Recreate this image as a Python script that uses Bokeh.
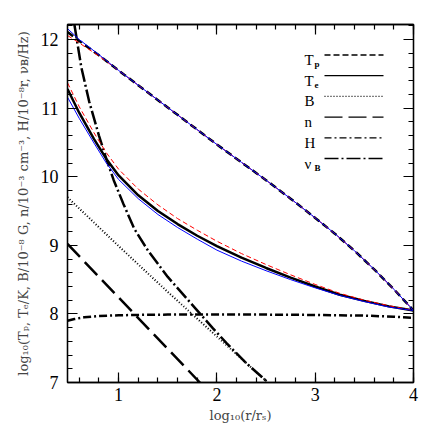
from bokeh.plotting import figure
from bokeh.models import Label, LinearAxis, SingleIntervalTicker, Range1d, CustomJSTickFormatter
from bokeh.embed import file_html
from bokeh.resources import INLINE

# ---------------- data ----------------
x_tp = [0.48, 0.6, 0.8, 1.0, 1.25, 1.5, 1.75, 2.0, 2.25, 2.5, 2.75, 3.0, 3.2, 3.4, 3.6, 3.8, 4.0]
tp_black = [12.11, 11.98, 11.77, 11.55, 11.28, 11.01, 10.74, 10.47, 10.21, 9.95, 9.68, 9.40, 9.17, 8.92, 8.65, 8.36, 8.05]
tp_blue = [12.16, 12.00, 11.78, 11.55, 11.28, 11.01, 10.74, 10.47, 10.21, 9.95, 9.68, 9.40, 9.17, 8.92, 8.65, 8.36, 8.05]
tp_red = [12.06, 11.95, 11.76, 11.55, 11.28, 11.01, 10.74, 10.47, 10.21, 9.95, 9.68, 9.40, 9.17, 8.92, 8.65, 8.36, 8.05]

x_te = [0.48, 0.6, 0.75, 0.875, 1.0, 1.2, 1.4, 1.6, 1.8, 2.0, 2.25, 2.5, 2.75, 3.0, 3.25, 3.5, 3.75, 4.0]
te_black = [11.28, 10.93, 10.55, 10.26, 10.02, 9.73, 9.50, 9.31, 9.14, 8.99, 8.82, 8.67, 8.53, 8.40, 8.28, 8.19, 8.11, 8.05]
te_red = [11.37, 11.02, 10.64, 10.35, 10.11, 9.82, 9.59, 9.39, 9.22, 9.06, 8.88, 8.72, 8.57, 8.43, 8.30, 8.20, 8.12, 8.05]
te_blue = [11.16, 10.85, 10.49, 10.20, 9.96, 9.68, 9.45, 9.26, 9.09, 8.93, 8.77, 8.63, 8.50, 8.38, 8.27, 8.18, 8.10, 8.05]

x_b = [0.48, 1.0, 1.5, 2.0, 2.52]
b_vals = [9.70, 8.99, 8.32, 7.67, 7.00]

x_n = [0.48, 1.0, 1.5, 1.86]
n_vals = [9.02, 8.24, 7.49, 6.95]

x_h = [0.48, 0.55, 0.65, 0.8, 1.0, 1.25, 1.5, 2.0, 2.5, 3.0, 3.5, 3.8, 4.0]
h_vals = [7.90, 7.925, 7.95, 7.97, 7.98, 7.987, 7.99, 7.99, 7.99, 7.985, 7.975, 7.96, 7.94]

x_nu = [0.48, 0.55, 0.62, 0.70, 0.80, 0.875, 0.95, 1.05, 1.16, 1.3, 1.5, 1.83, 1.96, 2.1, 2.3, 2.52]
nu_vals = [12.85, 12.22, 11.60, 11.10, 10.60, 10.26, 9.95, 9.60, 9.24, 8.92, 8.54, 8.00, 7.79, 7.57, 7.28, 7.00]

legend_names = ["T", "T", "B", "n", "H", "\u03bd"]
legend_subs = ["p", "e", "", "", "", "B"]
legend_dashes = ["6 3", "solid", "1 2", "18 6", "7 3 2 3", "14 3 2 3"]

X0, X1, Y0, Y1 = 0.48, 4.0, 7.0, 12.22
W, H = 436, 436
BL, BR, BT, BB = 67, 23, 24, 54
FW, FH = W - BL - BR, H - BT - BB

def xd(cx):  # canvas pixel -> data x (layout helper for legend placement)
    return X0 + (cx - BL) / FW * (X1 - X0)

def yd(cy):  # canvas pixel -> data y
    return Y1 - (cy - BT) / FH * (Y1 - Y0)

SERIF = "Liberation Serif"
SERIF2 = "DejaVu Serif"

p = figure(width=W, height=H, x_range=Range1d(X0, X1), y_range=Range1d(Y0, Y1),
           output_backend="svg", toolbar_location=None,
           min_border_left=BL, min_border_right=BR, min_border_top=BT, min_border_bottom=BB)
p.xgrid.grid_line_color = None
p.ygrid.grid_line_color = None
p.outline_line_color = "black"
p.outline_line_width = 1.3
p.background_fill_color = "white"
p.border_fill_color = "white"

def style(ax, labels=True):
    ax.major_tick_in = 10
    ax.major_tick_out = 0
    ax.minor_tick_in = 5
    ax.minor_tick_out = 0
    ax.major_tick_line_color = "black"
    ax.minor_tick_line_color = "black"
    ax.major_tick_line_width = 1.2
    ax.minor_tick_line_width = 1.2
    ax.axis_line_color = "black"
    ax.axis_line_width = 1.3
    ax.major_label_text_font = SERIF
    ax.major_label_text_font_size = "18px"
    ax.major_label_text_color = "black"
    if not labels:
        ax.formatter = CustomJSTickFormatter(code="return ''")
        ax.major_label_text_font_size = "1px"
        ax.major_label_standoff = 0

p.xaxis.ticker = SingleIntervalTicker(interval=1, num_minor_ticks=5)
p.yaxis.ticker = SingleIntervalTicker(interval=1, num_minor_ticks=5)
style(p.xaxis[0])
style(p.yaxis[0])
p.xaxis.major_label_standoff = 5
p.yaxis.major_label_standoff = 9

p.xaxis.axis_label = "log\u2081\u2080(r/r\u209b)"
p.xaxis.axis_label_text_font = SERIF2
p.xaxis.axis_label_text_font_size = "13px"
p.xaxis.axis_label_text_font_style = "normal"
p.xaxis.axis_label_standoff = 4

p.yaxis.axis_label = ("log\u2081\u2080(T\u209a, T\u2091/K, B/10\u207b\u2078 G, n/10\u207b\u00b3 cm\u207b\u00b3, "
                      "H/10\u207b\u2078r, \u03bd\u0299/Hz)")
p.yaxis.axis_label_text_font = SERIF2
p.yaxis.axis_label_text_font_size = "13px"
p.yaxis.axis_label_text_font_style = "normal"
p.yaxis.axis_label_standoff = 7

top = LinearAxis(ticker=SingleIntervalTicker(interval=1, num_minor_ticks=5))
right = LinearAxis(ticker=SingleIntervalTicker(interval=1, num_minor_ticks=5))
style(top, labels=False)
style(right, labels=False)
p.add_layout(top, "above")
p.add_layout(right, "right")

# ---------------- curves ----------------
LW = 2.5
p.line(x_tp, tp_black, line_color="black", line_width=LW, line_dash="7 4")
p.line(x_te, te_black, line_color="black", line_width=LW)
p.line(x_b, b_vals, line_color="black", line_width=2.0, line_dash="1 2")
p.line(x_n, n_vals, line_color="black", line_width=LW, line_dash="18 7")
p.line(x_h, h_vals, line_color="black", line_width=LW, line_dash="8 3 2 3")
p.line(x_nu, nu_vals, line_color="black", line_width=LW, line_dash="14 3 2 3")

p.line(x_tp, tp_red, line_color="#ff0000", line_width=1.0, line_dash="5 3")
p.line(x_te, te_red, line_color="#ff0000", line_width=1.0, line_dash="5 3")
p.line(x_tp, tp_blue, line_color="#0000ff", line_width=1.0)
p.line(x_te, te_blue, line_color="#0000ff", line_width=1.0)

# ---------------- legend (labels left of samples) ----------------
row0, drow = 54.5, 20.7
lab_x, sub_dx, seg_x0, seg_x1 = 304, 10, 324, 383
for i, (nm, sb, dash) in enumerate(zip(legend_names, legend_subs, legend_dashes)):
    cy = row0 + i * drow
    p.add_layout(Label(x=xd(lab_x), y=yd(cy + 5), text=nm, text_font=SERIF,
                       text_font_size="15px", text_baseline="alphabetic", text_color="black"))
    if sb:
        p.add_layout(Label(x=xd(lab_x + sub_dx), y=yd(cy + 9), text=sb, text_font=SERIF,
                           text_font_size="9px", text_font_style="bold",
                           text_baseline="alphabetic", text_color="black"))
    p.segment(x0=[xd(seg_x0)], y0=[yd(cy)], x1=[xd(seg_x1)], y1=[yd(cy)],
              line_color="black", line_width=1.3, line_dash=dash)

open("out.html", "w").write(file_html(p, INLINE))
